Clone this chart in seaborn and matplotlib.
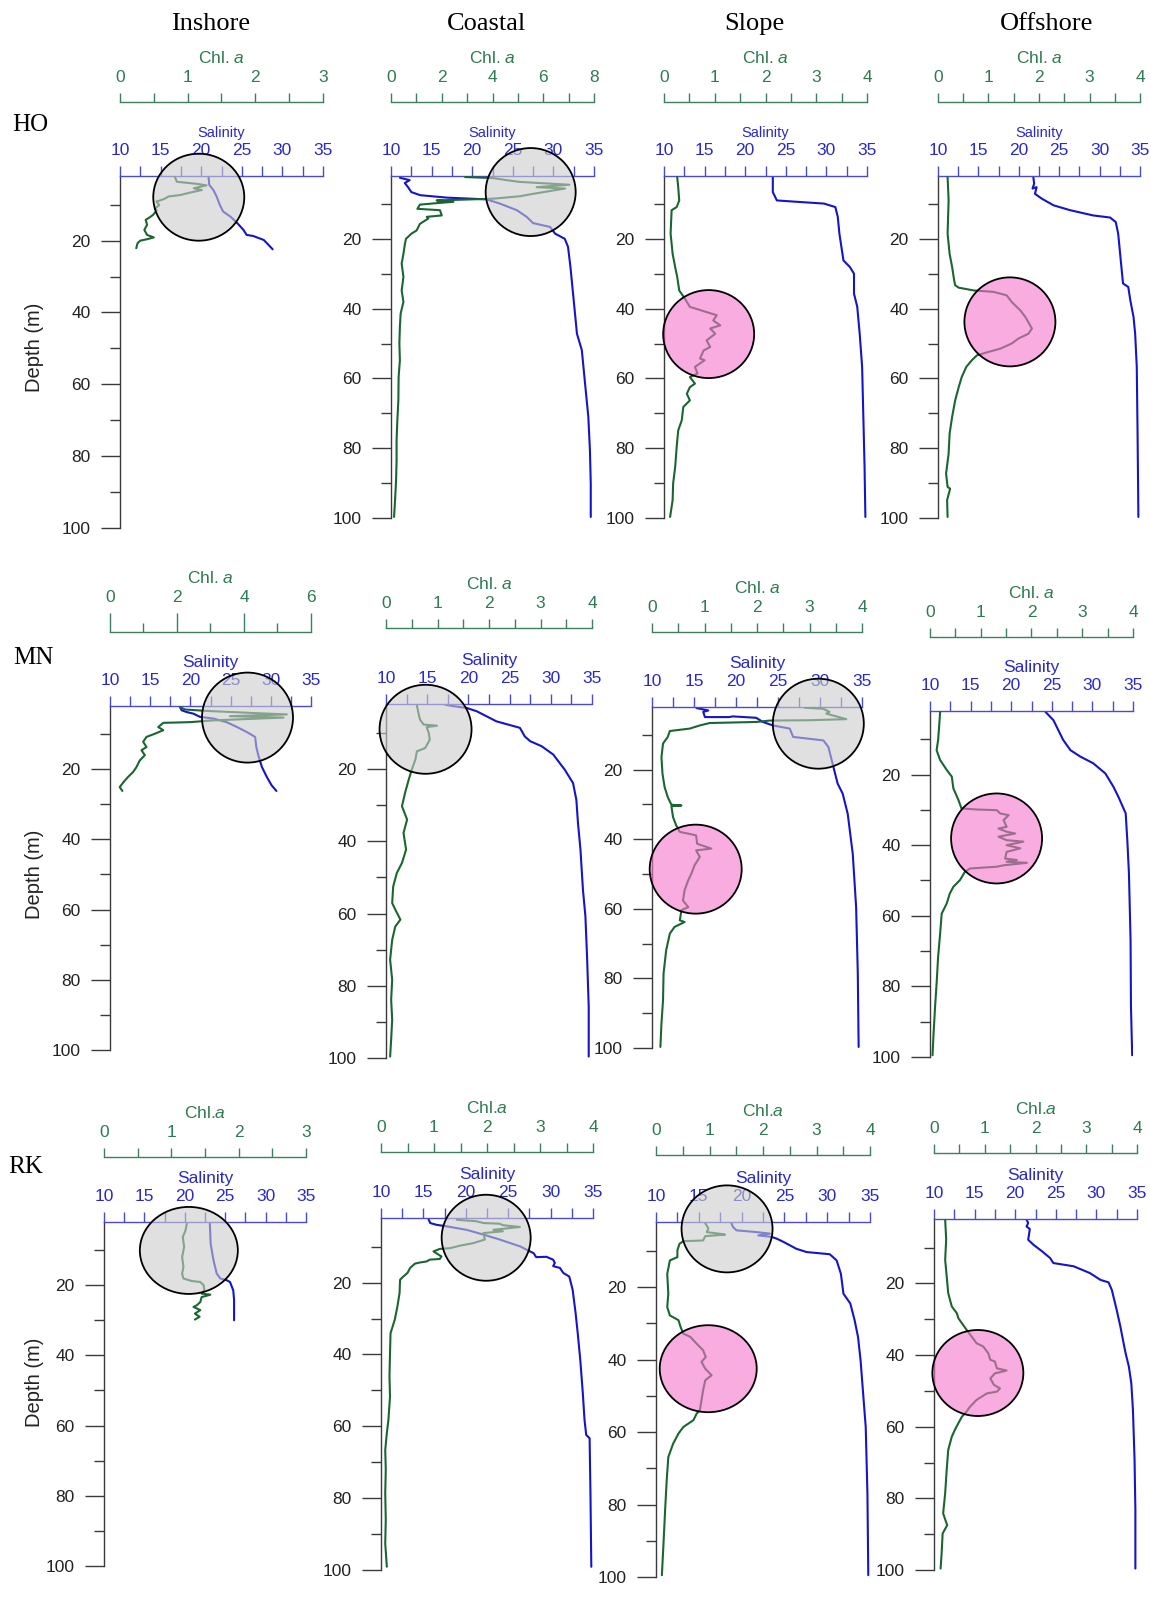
import numpy as np
import matplotlib
matplotlib.use("Agg")
import matplotlib.pyplot as plt
import seaborn as sns
from matplotlib.patches import Ellipse
from matplotlib import transforms

# ---------------- data (depth in m, Chl. a, salinity) ----------------
rows = ["HO", "MN", "RK"]
cols = ["Inshore", "Coastal", "Slope", "Offshore"]

# HO
ho_in_chl_z = [2.2, 3.6, 4.2, 4.6, 5.4, 5.9, 6.6, 7.3, 7.7, 8.5, 9.1, 10.1, 11.0, 11.6, 12.8, 13.5, 14.2, 15.6, 17.0, 18.4, 19.1, 19.6, 20.0, 20.7, 22.1]
ho_in_chl = [0.81, 0.84, 1.14, 1.28, 1.09, 1.21, 1.04, 0.89, 0.72, 0.64, 0.54, 0.58, 0.52, 0.54, 0.49, 0.44, 0.38, 0.40, 0.36, 0.40, 0.50, 0.40, 0.30, 0.26, 0.24]
ho_in_sal_z = [2.2, 4.5, 5.9, 7.7, 10.1, 11.9, 13.3, 15.0, 17.0, 18.4, 18.7, 19.8, 21.2, 22.4]
ho_in_sal = [20.9, 21.0, 21.5, 21.9, 22.3, 22.7, 23.6, 24.4, 25.2, 25.6, 26.4, 27.7, 28.3, 28.8]

ho_co_chl_z = [2.3, 2.6, 3.2, 3.7, 4.5, 5.2, 5.6, 6.3, 7.1, 7.8, 8.5, 8.8, 9.0, 9.4, 9.7, 10.2, 11.4, 11.8, 13.3, 13.7, 14.2, 15.7, 17.6, 18.5, 20.0, 21.4, 24.3, 27.1, 30.9, 34.8, 38.1, 41.4, 45.3, 50.0, 54.8, 59.6, 66.3, 72.0, 77.7, 83.5, 89.2, 94.9, 99.7]
ho_co_chl = [2.92, 4.03, 4.56, 5.08, 7.03, 5.74, 6.86, 6.27, 5.61, 5.08, 4.03, 2.72, 1.80, 2.46, 1.93, 1.14, 1.04, 1.93, 2.00, 1.41, 1.47, 1.14, 1.01, 0.81, 0.59, 0.55, 0.49, 0.42, 0.49, 0.42, 0.49, 0.38, 0.35, 0.33, 0.35, 0.30, 0.29, 0.25, 0.22, 0.22, 0.20, 0.16, 0.12]
ho_co_sal_z = [2.5, 3.2, 4.0, 5.2, 6.6, 7.5, 8.2, 8.7, 9.9, 11.8, 13.7, 15.5, 16.6, 18.5, 20.0, 22.3, 28.1, 37.6, 47.2, 51.9, 61.5, 71.0, 80.6, 90.1, 99.7]
ho_co_sal = [11.1, 12.3, 11.7, 12.1, 12.5, 13.6, 16.9, 21.8, 23.4, 25.5, 26.7, 27.5, 29.6, 30.2, 31.4, 31.8, 32.1, 32.5, 32.9, 33.5, 33.9, 34.3, 34.5, 34.6, 34.6]

ho_sl_chl_z = [2.3, 5.2, 9.0, 10.9, 11.8, 18.5, 24.3, 28.1, 30.9, 34.8, 37.1, 39.5, 41.0, 41.9, 43.4, 44.8, 45.7, 47.2, 49.1, 51.0, 52.0, 54.3, 54.8, 56.7, 58.6, 59.6, 61.5, 62.5, 64.4, 66.3, 68.2, 72.0, 74.9, 79.6, 85.4, 90.1, 94.9, 99.7]
ho_sl_chl = [0.26, 0.28, 0.30, 0.25, 0.15, 0.13, 0.17, 0.22, 0.26, 0.30, 0.41, 0.51, 0.84, 1.04, 0.97, 1.11, 0.91, 1.01, 0.84, 0.91, 0.78, 0.71, 0.80, 0.61, 0.66, 0.51, 0.61, 0.51, 0.45, 0.51, 0.38, 0.35, 0.28, 0.25, 0.22, 0.18, 0.17, 0.12]
ho_sl_sal_z = [2.3, 6.6, 9.0, 9.4, 9.9, 10.9, 13.7, 18.5, 26.2, 28.1, 30.0, 35.7, 39.5, 47.2, 56.7, 75.8, 85.4, 99.7]
ho_sl_sal = [23.4, 23.4, 23.9, 26.4, 29.7, 31.1, 31.4, 31.6, 32.1, 32.9, 33.4, 33.4, 33.8, 34.1, 34.4, 34.6, 34.7, 34.8]

ho_of_chl_z = [2.3, 9.0, 18.5, 24.3, 28.1, 31.9, 33.3, 34.0, 34.8, 35.2, 36.2, 38.1, 40.5, 42.4, 45.7, 47.2, 48.6, 50.0, 51.5, 52.4, 53.4, 54.8, 56.7, 59.6, 62.5, 66.3, 71.0, 75.8, 81.6, 87.3, 91.1, 91.6, 94.9, 99.7]
ho_of_chl = [0.19, 0.21, 0.19, 0.23, 0.28, 0.32, 0.34, 0.41, 0.71, 1.10, 1.36, 1.46, 1.63, 1.73, 1.86, 1.79, 1.59, 1.46, 1.23, 1.00, 0.77, 0.67, 0.56, 0.47, 0.41, 0.34, 0.28, 0.23, 0.21, 0.16, 0.19, 0.24, 0.18, 0.19]
ho_of_sal_z = [2.3, 4.2, 5.6, 5.2, 7.1, 8.5, 10.4, 11.8, 13.3, 13.9, 15.2, 18.5, 23.3, 28.1, 32.8, 33.8, 37.6, 42.4, 47.2, 56.7, 75.8, 99.7]
ho_of_sal = [21.8, 21.9, 21.7, 22.2, 22.0, 22.85, 24.3, 26.35, 29.2, 31.3, 32.0, 32.3, 32.5, 32.7, 32.9, 33.55, 33.8, 34.2, 34.4, 34.6, 34.7, 34.8]

# MN
mn_in_chl_z = [2.3, 3.0, 3.4, 4.0, 4.4, 4.9, 5.3, 6.1, 6.6, 6.8, 8.0, 8.9, 9.9, 10.8, 12.2, 13.7, 14.6, 16.0, 17.5, 19.4, 20.8, 22.2, 23.6, 25.1, 26.2]
mn_in_chl = [2.09, 2.24, 2.89, 4.28, 5.28, 3.58, 5.18, 3.08, 2.39, 1.59, 1.44, 1.59, 1.34, 1.09, 0.99, 1.09, 0.94, 1.04, 0.89, 0.79, 0.69, 0.54, 0.41, 0.29, 0.37]
mn_in_sal_z = [2.3, 3.2, 3.7, 4.2, 5.1, 5.6, 6.6, 8.0, 9.4, 10.8, 13.7, 16.5, 19.4, 22.2, 24.6, 26.2]
mn_in_sal = [18.7, 18.9, 19.5, 20.4, 21.2, 22.9, 24.5, 25.8, 27.0, 28.05, 28.2, 28.5, 28.9, 29.5, 30.1, 30.7]

mn_co_chl_z = [2.4, 4.5, 6.3, 7.7, 8.0, 8.4, 10.0, 11.9, 14.2, 15.1, 17.4, 20.2, 23.0, 26.6, 30.3, 34.0, 37.7, 42.3, 46.0, 48.8, 52.5, 57.1, 58.9, 61.7, 63.6, 67.3, 72.8, 78.3, 83.9, 89.4, 94.9, 99.6]
mn_co_chl = [0.60, 0.63, 0.66, 0.73, 0.99, 0.79, 0.83, 0.85, 0.76, 0.60, 0.57, 0.50, 0.44, 0.37, 0.31, 0.41, 0.34, 0.39, 0.31, 0.21, 0.14, 0.12, 0.18, 0.28, 0.18, 0.12, 0.08, 0.12, 0.10, 0.12, 0.10, 0.08]
mn_co_sal_z = [2.2, 2.6, 3.1, 4.0, 5.4, 6.8, 8.6, 11.0, 12.3, 13.7, 16.0, 20.2, 23.9, 28.5, 35.0, 42.3, 53.4, 60.8, 71.9, 85.7, 99.6]
mn_co_sal = [17.2, 18.2, 19.8, 21.0, 22.2, 23.4, 26.25, 26.85, 27.5, 28.9, 30.3, 31.7, 32.7, 33.1, 33.3, 33.6, 33.9, 34.2, 34.4, 34.6, 34.6]

mn_sl_chl_z = [2.2, 2.5, 3.4, 3.9, 5.5, 5.8, 5.9, 6.3, 6.6, 7.3, 8.2, 8.9, 10.6, 12.5, 16.4, 21.2, 25.0, 27.9, 30.1, 30.3, 30.5, 33.6, 36.0, 37.9, 38.4, 38.9, 41.3, 42.7, 43.2, 45.1, 47.5, 49.9, 51.8, 54.7, 57.6, 59.5, 60.4, 63.3, 63.8, 65.2, 67.1, 71.9, 78.6, 86.3, 93.0, 99.7]
mn_sl_chl = [2.91, 3.26, 3.38, 3.32, 3.70, 3.00, 2.24, 1.99, 1.10, 0.91, 0.72, 0.34, 0.30, 0.21, 0.18, 0.20, 0.24, 0.30, 0.37, 0.56, 0.37, 0.40, 0.46, 0.53, 0.69, 0.84, 0.86, 1.13, 0.84, 0.91, 0.81, 0.75, 0.69, 0.62, 0.59, 0.69, 0.56, 0.53, 0.62, 0.43, 0.34, 0.27, 0.22, 0.21, 0.18, 0.16]
mn_sl_sal_z = [2.3, 3.0, 3.4, 4.9, 4.9, 4.7, 5.1, 6.3, 7.3, 8.2, 10.6, 11.6, 13.5, 18.3, 24.0, 26.9, 32.7, 44.2, 59.5, 78.6, 99.7]
mn_sl_sal = [15.3, 16.7, 16.1, 16.3, 19.2, 19.6, 22.4, 23.2, 24.4, 26.4, 26.8, 30.4, 31.0, 31.5, 32.1, 32.7, 33.3, 33.9, 34.3, 34.5, 34.6]

mn_of_chl_z = [2.2, 6.4, 10.2, 13.1, 15.9, 18.7, 20.6, 23.9, 27.2, 29.6, 29.9, 30.1, 31.0, 31.5, 32.9, 34.8, 35.3, 36.2, 36.7, 37.6, 38.6, 39.0, 40.0, 40.9, 41.9, 43.8, 44.2, 44.7, 45.0, 45.7, 46.1, 46.6, 47.5, 49.9, 51.8, 53.7, 56.5, 59.4, 65.0, 71.6, 79.2, 85.8, 93.4, 99.5]
mn_of_chl = [0.20, 0.18, 0.16, 0.13, 0.20, 0.33, 0.43, 0.46, 0.56, 0.62, 0.92, 1.32, 1.38, 1.55, 1.45, 1.51, 1.35, 1.51, 1.68, 1.35, 1.51, 1.84, 1.51, 1.78, 1.51, 1.48, 1.71, 1.51, 1.91, 1.45, 1.32, 0.79, 0.69, 0.59, 0.46, 0.39, 0.33, 0.23, 0.20, 0.16, 0.13, 0.10, 0.07, 0.05]
mn_of_sal_z = [2.2, 4.6, 7.4, 10.2, 13.1, 14.9, 16.8, 19.7, 23.5, 26.3, 31.0, 38.6, 48.0, 66.9, 85.8, 99.5]
mn_of_sal = [24.2, 25.2, 25.8, 26.4, 27.3, 28.5, 30.1, 31.6, 32.6, 33.2, 34.1, 34.3, 34.5, 34.7, 34.75, 34.9]

# RK
rk_in_chl_z = [2.5, 4.4, 6.3, 9.1, 12.0, 14.8, 16.7, 18.1, 18.8, 19.1, 20.0, 21.5, 22.4, 22.7, 23.4, 24.8, 25.7, 26.2, 27.1, 28.1, 29.0, 29.8]
rk_in_chl = [1.23, 1.21, 1.17, 1.19, 1.16, 1.18, 1.16, 1.18, 1.30, 1.43, 1.48, 1.49, 1.45, 1.58, 1.45, 1.43, 1.38, 1.33, 1.43, 1.35, 1.42, 1.35]
rk_in_sal_z = [2.5, 8.2, 12.9, 16.7, 18.1, 18.6, 19.1, 21.5, 24.3, 30.0]
rk_in_sal = [23.1, 23.2, 23.55, 23.95, 24.4, 25.2, 25.6, 26.0, 26.1, 26.1]

rk_co_chl_z = [2.5, 2.9, 3.4, 3.6, 4.0, 4.5, 5.3, 5.7, 6.2, 8.0, 9.0, 9.7, 10.4, 10.6, 11.3, 12.7, 13.4, 13.6, 14.1, 14.4, 14.7, 15.9, 17.3, 18.3, 19.2, 22.9, 26.6, 30.3, 34.1, 39.6, 46.1, 51.7, 58.2, 61.9, 66.6, 72.1, 78.6, 86.1, 92.6, 99.1]
rk_co_chl = [1.43, 1.80, 1.93, 2.24, 2.30, 2.62, 2.12, 2.30, 1.93, 1.96, 1.74, 1.49, 1.30, 1.11, 0.99, 1.14, 1.11, 0.92, 0.86, 0.73, 0.64, 0.55, 0.50, 0.42, 0.36, 0.35, 0.31, 0.26, 0.18, 0.17, 0.16, 0.17, 0.14, 0.11, 0.08, 0.09, 0.08, 0.09, 0.08, 0.11]
rk_co_sal_z = [2.3, 3.4, 3.9, 4.3, 5.3, 6.6, 8.0, 9.9, 11.8, 12.9, 12.8, 13.6, 14.5, 15.4, 15.9, 17.3, 18.3, 22.0, 28.5, 34.1, 41.5, 50.8, 58.2, 62.4, 63.3, 78.6, 99.1]
rk_co_sal = [15.6, 15.8, 16.55, 17.7, 20.1, 22.05, 24.0, 26.4, 28.0, 28.3, 29.5, 30.3, 30.5, 30.3, 31.1, 31.5, 32.2, 32.6, 32.95, 33.2, 33.5, 33.8, 34.0, 34.2, 34.6, 34.7, 34.8]

rk_sl_chl_z = [2.3, 3.8, 4.8, 5.2, 5.5, 5.9, 7.1, 7.3, 8.0, 9.8, 11.7, 12.6, 16.3, 21.8, 25.5, 27.8, 29.1, 31.0, 32.8, 33.7, 35.6, 37.4, 39.3, 40.6, 42.5, 43.4, 44.3, 45.7, 48.5, 51.2, 54.0, 54.9, 56.7, 57.7, 58.6, 60.4, 63.2, 66.9, 73.3, 81.6, 90.8, 99.5]
rk_sl_chl = [0.92, 0.98, 0.95, 1.17, 1.29, 0.92, 0.88, 0.51, 0.44, 0.40, 0.40, 0.26, 0.21, 0.23, 0.21, 0.26, 0.42, 0.46, 0.51, 0.64, 0.76, 0.88, 0.93, 0.85, 0.92, 0.98, 1.04, 0.92, 0.88, 0.85, 0.82, 0.76, 0.70, 0.60, 0.51, 0.42, 0.32, 0.23, 0.20, 0.17, 0.14, 0.11]
rk_sl_sal_z = [2.3, 3.4, 4.3, 4.8, 5.2, 5.7, 6.1, 6.6, 7.5, 9.4, 10.3, 10.9, 12.6, 16.3, 21.8, 24.5, 29.1, 33.7, 40.2, 49.4, 58.6, 77.0, 99.5]
rk_sl_sal = [18.8, 19.0, 19.4, 21.8, 23.3, 21.95, 23.5, 24.1, 24.9, 26.4, 27.6, 30.3, 31.1, 31.6, 31.9, 32.7, 33.2, 33.6, 33.9, 34.2, 34.5, 34.7, 34.8]

rk_of_chl_z = [2.2, 7.8, 13.4, 18.0, 22.7, 26.4, 28.3, 29.7, 31.1, 32.9, 34.8, 36.7, 37.6, 39.5, 41.3, 41.8, 43.7, 44.3, 45.1, 46.5, 48.3, 49.3, 50.2, 50.7, 52.5, 54.4, 55.8, 57.2, 59.0, 60.9, 62.8, 66.5, 72.1, 78.6, 84.2, 87.5, 89.8, 95.4, 99.6]
rk_of_chl = [0.22, 0.24, 0.22, 0.25, 0.28, 0.35, 0.45, 0.48, 0.55, 0.64, 0.74, 0.84, 0.97, 1.07, 1.11, 1.20, 1.24, 1.43, 1.20, 1.11, 1.18, 1.30, 1.24, 1.04, 0.84, 0.71, 0.64, 0.55, 0.48, 0.41, 0.35, 0.28, 0.25, 0.22, 0.18, 0.26, 0.17, 0.15, 0.13]
rk_of_sal_z = [2.2, 3.1, 4.1, 4.8, 7.8, 9.2, 11.0, 12.9, 14.3, 15.2, 17.1, 19.0, 19.7, 21.8, 27.4, 32.0, 36.7, 39.5, 43.2, 47.9, 55.3, 69.3, 83.3, 99.6]
rk_of_sal = [21.4, 21.6, 21.4, 21.8, 21.6, 22.25, 23.3, 24.3, 24.7, 27.2, 29.2, 30.5, 31.5, 31.9, 32.5, 32.95, 33.35, 33.6, 34.0, 34.3, 34.5, 34.7, 34.8, 34.8]

profiles = {
    (0, 0): (ho_in_chl_z, ho_in_chl, ho_in_sal_z, ho_in_sal),
    (0, 1): (ho_co_chl_z, ho_co_chl, ho_co_sal_z, ho_co_sal),
    (0, 2): (ho_sl_chl_z, ho_sl_chl, ho_sl_sal_z, ho_sl_sal),
    (0, 3): (ho_of_chl_z, ho_of_chl, ho_of_sal_z, ho_of_sal),
    (1, 0): (mn_in_chl_z, mn_in_chl, mn_in_sal_z, mn_in_sal),
    (1, 1): (mn_co_chl_z, mn_co_chl, mn_co_sal_z, mn_co_sal),
    (1, 2): (mn_sl_chl_z, mn_sl_chl, mn_sl_sal_z, mn_sl_sal),
    (1, 3): (mn_of_chl_z, mn_of_chl, mn_of_sal_z, mn_of_sal),
    (2, 0): (rk_in_chl_z, rk_in_chl, rk_in_sal_z, rk_in_sal),
    (2, 1): (rk_co_chl_z, rk_co_chl, rk_co_sal_z, rk_co_sal),
    (2, 2): (rk_sl_chl_z, rk_sl_chl, rk_sl_sal_z, rk_sl_sal),
    (2, 3): (rk_of_chl_z, rk_of_chl, rk_of_sal_z, rk_of_sal),
}

# highlighted layers: (salinity-axis x, depth, kind)
circles = {
    (0, 0): [(19.7, 7.9, "surface")],
    (0, 1): [(27.2, 6.6, "surface")],
    (0, 2): [(15.5, 47.3, "dcm")],
    (0, 3): [(18.9, 43.8, "dcm")],
    (1, 0): [(27.1, 5.3, "surface")],
    (1, 1): [(14.8, 9.0, "surface")],
    (1, 2): [(29.8, 6.8, "surface"), (15.2, 48.6, "dcm")],
    (1, 3): [(18.2, 38.1, "dcm")],
    (2, 0): [(20.5, 10.1, "surface")],
    (2, 1): [(22.4, 7.5, "surface")],
    (2, 2): [(18.3, 3.9, "surface"), (16.1, 42.5, "dcm")],
    (2, 3): [(15.4, 45.0, "dcm")],
}

# chl axis: (max, label step, tick step)
chl_axes = [
    [(3, 1, 0.5), (8, 2, 1), (4, 1, 0.5), (4, 1, 0.5)],
    [(6, 2, 1), (4, 1, 0.5), (4, 1, 0.5), (4, 1, 0.5)],
    [(3, 1, 0.5), (4, 1, 0.5), (4, 1, 0.5), (4, 1, 0.5)],
]
chl_labels = ["Chl. $a$", "Chl. $a$", "Chl.$a$"]
sal_ticks = [10, 15, 20, 25, 30, 35]
depth_ticks = [20, 40, 60, 80, 100]

# ---------------- layout (pixels) ----------------
W, H, DPI = 1151, 1610, 100
# left, right, salinity-axis y, depth-100 y, chl-axis y
boxes = [
    [(120, 323, 176, 528, 102), (391, 594, 176, 518, 102), (664, 867, 176, 518, 102), (938, 1140, 176, 518, 102)],
    [(110, 311, 706, 1050, 632), (386, 592, 704, 1058, 628), (652, 862, 707, 1048, 632), (930, 1133, 711, 1057, 637)],
    [(104, 306, 1222, 1566, 1157), (381, 593, 1218, 1570, 1152), (656, 870, 1222, 1577, 1155), (934, 1137, 1219, 1570, 1153)],
]
circle_px = {
    (0, 0): [(91, 87)], (0, 1): [(90, 88)], (0, 2): [(91, 88)], (0, 3): [(91, 89)],
    (1, 0): [(91, 90)], (1, 1): [(92, 89)], (1, 2): [(91, 90), (92, 89)], (1, 3): [(91, 90)],
    (2, 0): [(98, 87)], (2, 1): [(89, 86)], (2, 2): [(91, 87), (97, 87)], (2, 3): [(91, 86)],
}
title_x = [211, 486, 754, 1047]
row_lab = [(30, 125), (33, 658), (26, 1167)]
depth_lab_y = [347, 874, 1382]

CHL_LINE = "#1b6630"
SAL_LINE = "#1414c8"
CHL_AX = "#3f7f5f"
CHL_TXT = "#2f7a52"
SAL_AX = "#4b4bd2"
SAL_TXT = "#2a2ac6"
AX_GREY = "#3a3a3a"
FILL = {"surface": (0.80, 0.80, 0.80, 0.6), "dcm": (0.96, 0.46, 0.80, 0.6)}
NUM_SIZE = 12.5

sns.set_theme(style="ticks")
plt.rcParams["font.family"] = ["Liberation Sans", "DejaVu Sans"]
plt.rcParams["mathtext.fontset"] = "custom"
plt.rcParams["mathtext.rm"] = "Liberation Sans"
plt.rcParams["mathtext.it"] = "Liberation Sans:italic"

fig = plt.figure(figsize=(W / DPI, H / DPI), dpi=DPI)
fig.patch.set_facecolor("white")


def draw_panel(r, c):
    L, R, T, B, CY = boxes[r][c]
    ax = fig.add_axes([L / W, 1 - B / H, (R - L) / W, (B - T) / H])
    ax2 = ax.twiny()
    chl_z, chl, sal_z, sal = profiles[(r, c)]

    sns.lineplot(x=sal, y=sal_z, sort=False, estimator=None, color=SAL_LINE, lw=1.5, ax=ax)
    sns.lineplot(x=chl, y=chl_z, sort=False, estimator=None, color=CHL_LINE, lw=1.5, ax=ax2)

    for (cs, cz, kind), (w, h) in zip(circles[(r, c)], circle_px[(r, c)]):
        trans = fig.dpi_scale_trans + transforms.ScaledTranslation(cs, cz, ax.transData)
        ax2.add_patch(Ellipse((0, 0), w / DPI, h / DPI, transform=trans,
                              facecolor=FILL[kind], edgecolor="black", lw=1.3,
                              zorder=5, clip_on=False))

    cmax, cstep, cminor = chl_axes[r][c]
    ax.set_xlim(10, 35)
    ax.set_ylim(100, 2)
    ax2.set_xlim(0, cmax)

    # salinity axis (top of the panel)
    ax.xaxis.set_ticks_position("top")
    ax.xaxis.set_label_position("top")
    ax.set_xticks(sal_ticks, labels=[str(t) for t in sal_ticks])
    ax.set_xticks(np.arange(12.5, 35, 5), minor=True)
    ax.tick_params(axis="x", which="both", top=True, bottom=False, labeltop=True,
                   labelbottom=False, direction="out", length=7, width=1,
                   color=SAL_AX, labelcolor=SAL_TXT, labelsize=NUM_SIZE, pad=6)
    ax.set_xlabel("Salinity", color=SAL_TXT, fontsize=10.5 if r == 0 else 12.5, labelpad=4)

    # depth axis
    ax.set_yticks(depth_ticks, labels=[str(t) for t in depth_ticks])
    ax.set_yticks([10, 30, 50, 70, 90], minor=True)
    ax.tick_params(axis="y", which="major", left=True, right=False, direction="out",
                   length=14, width=1, color=AX_GREY, labelcolor="#222222",
                   labelsize=NUM_SIZE, pad=7)
    ax.tick_params(axis="y", which="minor", left=True, right=False, direction="out",
                   length=7, width=1, color=AX_GREY)
    ax.set_ylabel("")
    for s in ["bottom", "right"]:
        ax.spines[s].set_visible(False)
    ax.spines["top"].set_color(SAL_AX)
    ax.spines["top"].set_linewidth(1)
    ax.spines["left"].set_color(AX_GREY)
    ax.spines["left"].set_linewidth(1)

    # chl axis, raised above the salinity axis
    for s in ["bottom", "left", "right"]:
        ax2.spines[s].set_visible(False)
    ax2.spines["top"].set_position(("axes", 1 + (T - CY) / (B - T)))
    ax2.spines["top"].set_color(CHL_AX)
    ax2.spines["top"].set_linewidth(1)
    major = np.arange(0, cmax + 0.01, cstep)
    ax2.set_xticks(major, labels=[f"{t:g}" for t in major])
    ax2.set_xticks(np.arange(0, cmax + 0.01, cminor), minor=True)
    long_major = cmax == 6
    ax2.tick_params(axis="x", which="major", top=True, bottom=False, labeltop=True,
                    labelbottom=False, direction="out", length=13.5 if long_major else 6.5,
                    width=1, color=CHL_AX, labelcolor=CHL_TXT, labelsize=NUM_SIZE, pad=6)
    ax2.tick_params(axis="x", which="minor", top=True, bottom=False, direction="out",
                    length=6.5, width=1, color=CHL_AX)
    ax2.set_xlabel(chl_labels[r], color=CHL_TXT, fontsize=12.5, labelpad=5)
    ax2.set_ylabel("")


for r in range(3):
    for c in range(4):
        draw_panel(r, c)

for c, name in enumerate(cols):
    fig.text(title_x[c] / W, 1 - 24 / H, name, ha="center", va="center",
             fontsize=19, family="Liberation Serif", color="black")
for r, name in enumerate(rows):
    x, y = row_lab[r]
    fig.text(x / W, 1 - y / H, name, ha="center", va="center",
             fontsize=18, family="Liberation Serif", color="black")
    fig.text(35 / W, 1 - depth_lab_y[r] / H, "Depth (m)", rotation=90,
             ha="center", va="center", fontsize=14.5, color="#222222")

fig.savefig("out.png", dpi=DPI, facecolor="white")
